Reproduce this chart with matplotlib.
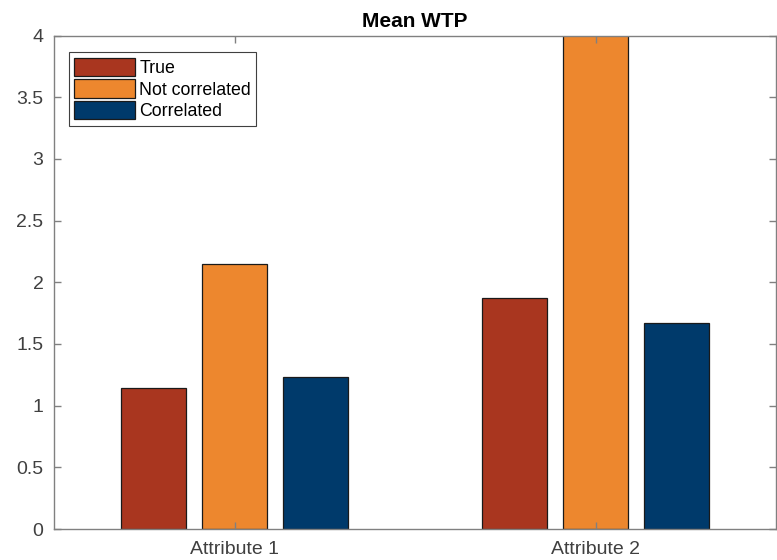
import numpy as np
import matplotlib
matplotlib.use("Agg")
import matplotlib.pyplot as plt

plt.rcParams['font.family'] = ['Liberation Sans', 'DejaVu Sans']

categories = ["Attribute 1", "Attribute 2"]
series_names = ["True", "Not correlated", "Correlated"]
true_vals = [1.14, 1.87]
not_corr_vals = [2.15, 4.2]
corr_vals = [1.23, 1.67]
colors = ["#A9361F", "#ED872E", "#003A6B"]
y_ticks = [0, 0.5, 1, 1.5, 2, 2.5, 3, 3.5, 4]
y_tick_labels = ["0", "0.5", "1", "1.5", "2", "2.5", "3", "3.5", "4"]

fig = plt.figure(figsize=(7.77, 5.6), dpi=100)
ax = fig.add_axes([54 / 777, 31 / 560, 722 / 777, 493.5 / 560])

x = np.arange(1, len(categories) + 1)
offset = 0.2257
width = 0.18
all_vals = [true_vals, not_corr_vals, corr_vals]
for i, (vals, name, col) in enumerate(zip(all_vals, series_names, colors)):
    ax.bar(x + (i - 1) * offset, vals, width, color=col, edgecolor="#1a1a1a",
           linewidth=0.9, label=name)

ax.set_xlim(0.5, 2.5)
ax.set_ylim(0, 4)
ax.set_xticks(x)
ax.set_xticklabels(categories)
ax.set_yticks(y_ticks)
ax.set_yticklabels(y_tick_labels)

axis_col = "#808080"
for s in ax.spines.values():
    s.set_color(axis_col)
    s.set_linewidth(1.0)
ax.tick_params(direction="in", length=5, width=1, color=axis_col,
               labelcolor="#404040", labelsize=14, top=True, right=True)
ax.tick_params(axis="x", pad=9)
ax.tick_params(axis="y", pad=7.5)

ax.set_title("Mean WTP", fontweight="bold", fontsize=15, color="black", pad=6)

leg = ax.legend(loc="upper left", bbox_to_anchor=(0.0208, 0.966), fontsize=12.8,
                frameon=True, fancybox=False, framealpha=1, borderpad=0.3,
                handlelength=3.4, handleheight=1.2, handletextpad=0.25,
                labelspacing=0.15, borderaxespad=0)
leg.get_frame().set_edgecolor("#404040")
leg.get_frame().set_linewidth(0.8)

fig.savefig("out.png", dpi=100)
